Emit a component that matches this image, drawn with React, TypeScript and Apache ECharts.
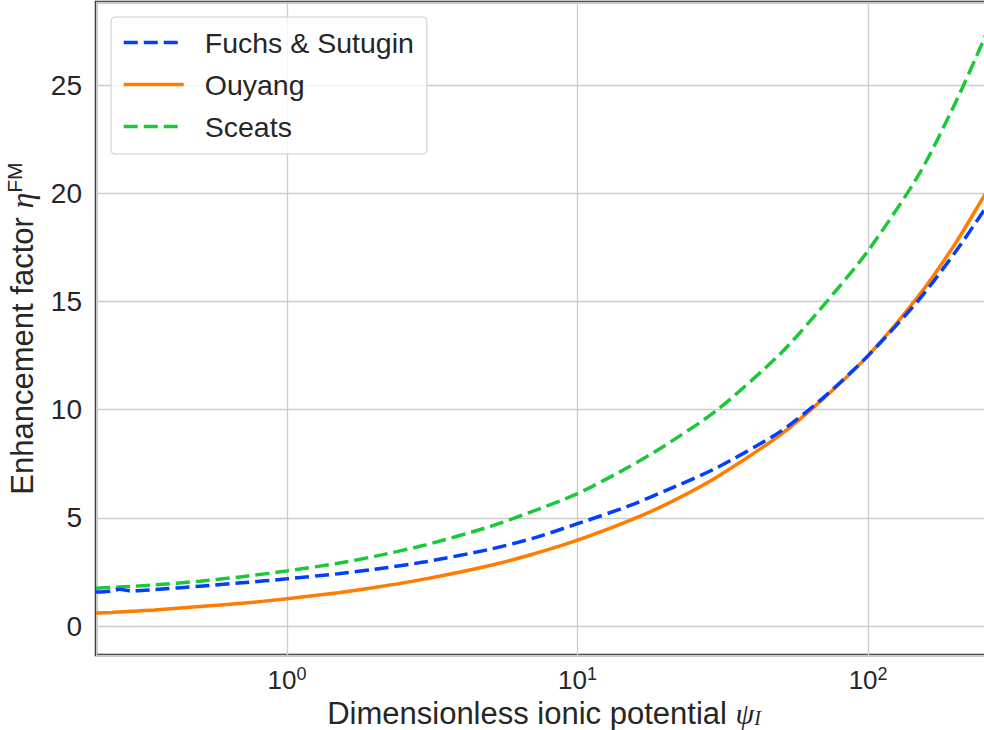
import React, { useEffect, useRef } from "react";
import * as echarts from "echarts";

// Dimensionless ionic potential (x) sample points
const psi = [0.22, 0.25, 0.265, 0.29, 0.35, 0.5, 0.7, 1, 1.5, 2, 3, 5, 7, 10, 15, 20, 30, 50, 70, 100, 150, 200, 250, 270];

// Enhancement factor for each model at the psi points
const fuchsSutugin = [1.57, 1.62, 1.7, 1.62, 1.68, 1.84, 2.0, 2.18, 2.42, 2.62, 2.97, 3.55, 4.05, 4.73, 5.55, 6.25, 7.3, 9.0, 10.55, 12.5, 15.1, 17.3, 19.2, 19.9];
const ouyang = [0.6, 0.63, 0.65, 0.68, 0.74, 0.9, 1.05, 1.26, 1.54, 1.78, 2.18, 2.8, 3.32, 3.97, 4.86, 5.6, 6.87, 8.85, 10.5, 12.5, 15.3, 17.7, 19.85, 20.6];
const sceats = [1.75, 1.78, 1.8, 1.83, 1.9, 2.07, 2.28, 2.55, 2.9, 3.22, 3.75, 4.6, 5.3, 6.12, 7.35, 8.35, 9.95, 12.6, 14.8, 17.35, 20.9, 24.2, 27.1, 28.2];

const seriesNames = ["Fuchs & Sutugin", "Ouyang", "Sceats"];

const FONT = "Liberation Sans";
const MATH = "Liberation Serif";
const INK = "#262626";

const pairs = (ys: number[]) => psi.map((x, i) => [x, ys[i]]);

export default function App() {
  const ref = useRef<HTMLDivElement>(null);

  useEffect(() => {
    if (!ref.current) return;
    const chart = echarts.init(ref.current, undefined, { renderer: "svg" });
    const dash = [14, 6];
    chart.setOption({
      animation: false,
      backgroundColor: "#ffffff",
      textStyle: { fontFamily: FONT, color: INK },
      grid: {
        left: 96,
        top: 2,
        width: 896,
        height: 653,
        outerBoundsMode: "none",
        containLabel: false,
        show: true,
        borderColor: INK,
        borderWidth: 2.5,
        backgroundColor: "transparent",
      },
      legend: {
        orient: "vertical",
        left: 111,
        top: 17,
        padding: [11, 13, 13, 11],
        backgroundColor: "rgba(255,255,255,0.8)",
        borderColor: "#cccccc",
        borderWidth: 1,
        borderRadius: 4,
        itemWidth: 60,
        itemHeight: 4,
        itemGap: 13,
        data: seriesNames,
        itemStyle: { opacity: 0 },
        lineStyle: { width: 3.5 },
        textStyle: { fontSize: 28.5, color: INK, fontFamily: FONT, padding: [0, 0, 0, 16] },
      },
      xAxis: {
        type: "log",
        logBase: 10,
        min: 0.22,
        max: 267,
        name: "{t|Dimensionless ionic potential }{p|ψ}{i|I}",
        nameLocation: "middle",
        nameGap: 30,
        nameTextStyle: {
          rich: {
            t: { fontSize: 31, fontFamily: FONT, color: INK, lineHeight: 30 },
            p: { fontSize: 30, fontFamily: MATH, fontStyle: "italic", color: INK, lineHeight: 30 },
            i: { fontSize: 20, fontFamily: MATH, fontStyle: "italic", color: INK, lineHeight: 16, verticalAlign: "bottom" },
          },
        },
        axisLine: { show: false },
        axisTick: { show: false },
        minorTick: { show: false },
        splitLine: { show: true, lineStyle: { color: "#cccccc", width: 1.3 } },
        axisLabel: {
          margin: 10,
          showMinLabel: false,
          showMaxLabel: false,
          formatter: (v: number) => {
            const e = Math.round(Math.log10(v));
            return `{b|10}{s|${e}}`;
          },
          rich: {
            b: { fontSize: 26, fontFamily: FONT, color: INK, lineHeight: 30 },
            s: { fontSize: 18, fontFamily: FONT, color: INK, lineHeight: 16, verticalAlign: "top" },
          },
        },
      },
      yAxis: {
        type: "value",
        min: -1.34,
        max: 28.85,
        minInterval: 5,
        maxInterval: 5,
        name: "{t|Enhancement factor }{e|η}{s|FM}",
        nameLocation: "middle",
        nameGap: 56,
        nameTextStyle: {
          rich: {
            t: { fontSize: 31, fontFamily: FONT, color: INK, lineHeight: 36 },
            e: { fontSize: 32, fontFamily: MATH, fontStyle: "italic", color: INK, lineHeight: 36 },
            s: { fontSize: 21, fontFamily: FONT, color: INK, lineHeight: 18, verticalAlign: "top" },
          },
        },
        axisLine: { show: false },
        axisTick: { show: false },
        splitLine: { show: true, lineStyle: { color: "#cccccc", width: 1.3 } },
        axisLabel: {
          margin: 14,
          fontSize: 28,
          fontFamily: FONT,
          color: INK,
          showMinLabel: false,
          showMaxLabel: false,
        },
      },
      series: [
        {
          name: seriesNames[0],
          type: "line",
          data: pairs(fuchsSutugin),
          symbol: "none",
          smooth: 0.25,
          z: 3,
          lineStyle: { color: "#023eff", width: 3.5, type: dash },
          itemStyle: { color: "#023eff" },
        },
        {
          name: seriesNames[1],
          type: "line",
          data: pairs(ouyang),
          symbol: "none",
          smooth: 0.25,
          z: 2,
          lineStyle: { color: "#ff7c00", width: 3.5, type: "solid" },
          itemStyle: { color: "#ff7c00" },
        },
        {
          name: seriesNames[2],
          type: "line",
          data: pairs(sceats),
          symbol: "none",
          smooth: 0.25,
          z: 2,
          lineStyle: { color: "#1ac938", width: 3.5, type: dash },
          itemStyle: { color: "#1ac938" },
        },
      ],
    });
    return () => chart.dispose();
  }, []);

  return (
    <div
      ref={ref}
      style={{ position: "fixed", left: 0, top: 0, width: 984, height: 730, background: "#fff" }}
    />
  );
}
